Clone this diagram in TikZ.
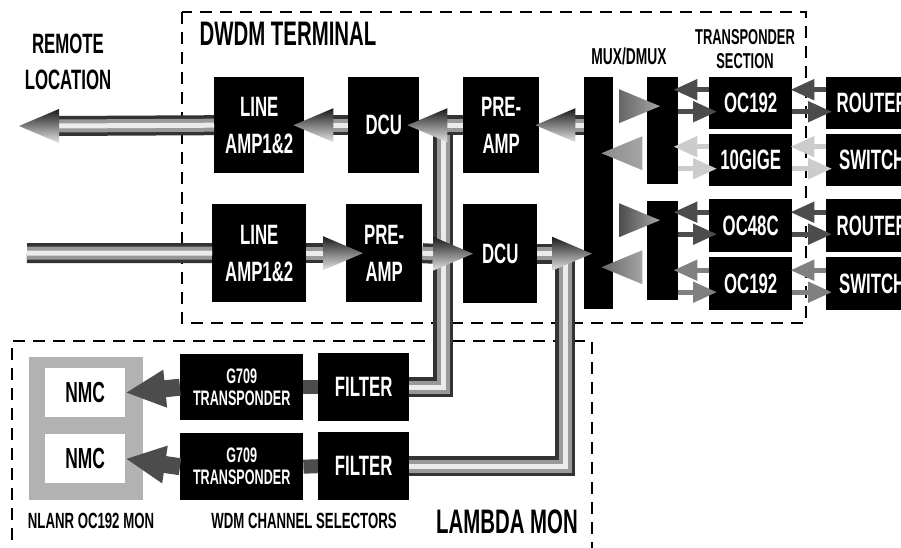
\documentclass[tikz,border=0pt]{standalone}
\usepackage{fontspec}
\setmainfont[FakeStretch=0.6]{Liberation Sans}
\usetikzlibrary{arrows.meta,calc}

\begin{document}
\begin{tikzpicture}[x=1pt,y=-1pt,line join=miter,
  blk/.style={fill=black,text=white,inner sep=0pt,align=center,anchor=north west,font=\bfseries\fontsize{28}{37}\selectfont},
  wbox/.style={fill=white,inner sep=0pt,anchor=north west,font=\bfseries\fontsize{29}{30}\selectfont},
  lbl/.style={inner sep=0pt,align=center,font=\bfseries\fontsize{#1}{36}\selectfont},
  region/.style={dash pattern=on 12pt off 8pt,line width=1.8pt},
  pipe/.style={draw=black!80,line width=20pt,postaction={draw=black!40,line width=13pt},postaction={draw=black!8,line width=5pt}},
  fwd/.style={draw=#1,line width=5pt,-{Triangle[length=24pt,width=20pt]}},
  cone/.pic={\shade[top color=black!90,middle color=black!40,bottom color=black!10] (0,0) -- (-40,-17) -- (-40,17) -- cycle;},
  wedge/.pic={\shade[left color=#1,right color=black!35] (0,0) -- (-41,-17) -- (-41,17) -- cycle;}]
\useasboundingbox (0,0) rectangle (901,548);

\draw[region] (182,12) rectangle (806,323);
\draw[region] (12,560) -- (12,341) -- (592,341) -- (592,560);

\node[lbl=28] (remtxt) at (68,62) {REMOTE\\LOCATION};
\node[lbl=34] (dwdmtxt) at (288,34) {DWDM TERMINAL};
\node[lbl=23] (muxtxt) at (629,56) {MUX/DMUX};
\node[lbl=21,font=\bfseries\fontsize{21.5}{24}\selectfont] (transtxt) at (745,49) {TRANSPONDER\\SECTION};
\node[lbl=22] (nlanrtxt) at (91,521) {NLANR OC192 MON};
\node[lbl=22] (wdmtxt) at (304,521) {WDM CHANNEL SELECTORS};
\node[lbl=34] (lambdatxt) at (507,522) {LAMBDA MON};

\node[blk,minimum width=90pt,minimum height=96pt] (ampT) at (214,77) {LINE\\AMP1\&2};
\node[blk,minimum width=71pt,minimum height=96pt] (dcuT) at (348,77) {DCU};
\node[blk,minimum width=76pt,minimum height=96pt] (preT) at (463,77) {PRE-\\AMP};
\node[blk,minimum width=94pt,minimum height=98pt] (ampB) at (212,204) {LINE\\AMP1\&2};
\node[blk,minimum width=76pt,minimum height=98pt] (preB) at (346,204) {PRE-\\AMP};
\node[blk,minimum width=74pt,minimum height=99pt] (dcuB) at (463,204) {DCU};
\node[blk,minimum width=29pt,minimum height=232pt] (muxbar) at (584,77) {};
\node[blk,minimum width=31pt,minimum height=107pt] (dmuxA) at (647,77) {};
\node[blk,minimum width=31pt,minimum height=99pt] (dmuxB) at (647,201) {};
\node[blk,minimum width=83pt,minimum height=52pt] (oc1) at (709,77) {OC192};
\node[blk,minimum width=83pt,minimum height=52pt] (gige) at (709,134) {10GIGE};
\node[blk,minimum width=83pt,minimum height=53pt] (oc48) at (709,199) {OC48C};
\node[blk,minimum width=83pt,minimum height=53pt] (oc2) at (709,257) {OC192};
\node[blk,minimum width=92pt,minimum height=52pt] (rtA) at (826,77) {ROUTER};
\node[blk,minimum width=92pt,minimum height=52pt] (swA) at (826,134) {SWITCH};
\node[blk,minimum width=92pt,minimum height=53pt] (rtB) at (826,199) {ROUTER};
\node[blk,minimum width=92pt,minimum height=53pt] (swB) at (826,257) {SWITCH};

\node[anchor=north west,fill=black!30,minimum width=114pt,minimum height=143pt,inner sep=0pt] (nmcbox) at (29,357) {};
\node[wbox,minimum width=80pt,minimum height=49pt] (nmcA) at (45,368) {NMC};
\node[wbox,minimum width=80pt,minimum height=49pt] (nmcB) at (45,434) {NMC};
\node[blk,minimum width=123pt,minimum height=66pt,font=\bfseries\fontsize{21}{22}\selectfont] (g709A) at (180,354) {G709\\TRANSPONDER};
\node[blk,minimum width=123pt,minimum height=67pt,font=\bfseries\fontsize{21}{22}\selectfont] (g709B) at (180,433) {G709\\TRANSPONDER};
\node[blk,minimum width=91pt,minimum height=68pt] (filterA) at (318,353) {FILTER};
\node[blk,minimum width=91pt,minimum height=68pt] (filterB) at (318,432) {FILTER};

\coordinate (tapA) at (443,126);
\coordinate (tapB) at (565,253);
\coordinate (remote) at (19,126);
\coordinate (far) at (27,253);
\draw[pipe] (tapA) |- (filterA.east);
\draw[pipe] (tapB) |- (filterB.east);

\draw[pipe] (muxbar.west |- preT.east) -- ($(preT.east)+(36,0)$);
\draw[pipe] (preT.west) -- ($(dcuT.east)+(28,0)$);
\draw[pipe] (dcuT.west) -- ($(ampT.east)+(29,0)$);
\draw[pipe] (ampT.west) -- ($(remote)+(40,0)$);
\draw[pipe] (far) -- (ampB.west);
\draw[pipe] (ampB.east) -- ($(preB.west)+(-23,0)$);
\draw[pipe] (preB.east) -- ($(dcuB.west)+(-30,0)$);
\draw[pipe] (dcuB.east) -- ($(muxbar.west |- dcuB.east)+(-32,0)$);
\pic[xscale=-1] at ($(preT.east)+(-4,0)$) {cone};
\pic[xscale=-1] at ($(dcuT.east)+(-12,0)$) {cone};
\pic[xscale=-1] at ($(ampT.east)+(-11,0)$) {cone};
\pic[xscale=-1] at (remote) {cone};
\pic at ($(preB.west)+(17,0)$) {cone};
\pic at ($(dcuB.west)+(10,0)$) {cone};
\pic at ($(muxbar.west |- dcuB.east)+(8,0)$) {cone};

\pic at ($(dmuxA.west)+(13,-24.5)$) {wedge=black!60};
\pic[xscale=-1] at ($(muxbar.east |- dmuxA.west)+(-12,22.5)$) {wedge=black!45};
\pic at ($(dmuxB.west)+(13,-30.5)$) {wedge=black!70};
\pic[xscale=-1] at ($(muxbar.east |- dmuxB.west)+(-12,16.5)$) {wedge=black!60};

\foreach \xp/\dm/\dev/\col in {oc1/dmuxA/rtA/black!70,gige/dmuxA/swA/black!20,oc48/dmuxB/rtB/black!70,oc2/dmuxB/swB/black!50} {
  \draw[fwd=\col] ($(\xp.west)+(0,-13.5)$) -- ($(\dm.east |- \xp.west)+(-5,-13.5)$);
  \draw[fwd=\col] ($(\dm.east |- \xp.west)+(0,8.5)$) -- ($(\xp.west)+(8,8.5)$);
  \draw[fwd=\col] ($(\dev.west)+(0,-13.5)$) -- ($(\xp.east)+(-2,-13.5)$);
  \draw[fwd=\col] ($(\xp.east)+(0,8.5)$) -- ($(\dev.west)+(6,8.5)$);
}

\draw[line width=14pt,black!70] (filterA.west) -- (g709A.east);
\draw[line width=14pt,black!70] (filterB.west) -- (g709B.east);
\draw[line width=17pt,black!70,-{Triangle[length=40pt,width=35pt]}] (g709A.west) -- (nmcA.east);
\draw[line width=17pt,black!70,-{Triangle[length=40pt,width=35pt]}] (g709B.west) -- (nmcB.east);
\end{tikzpicture}
\end{document}
